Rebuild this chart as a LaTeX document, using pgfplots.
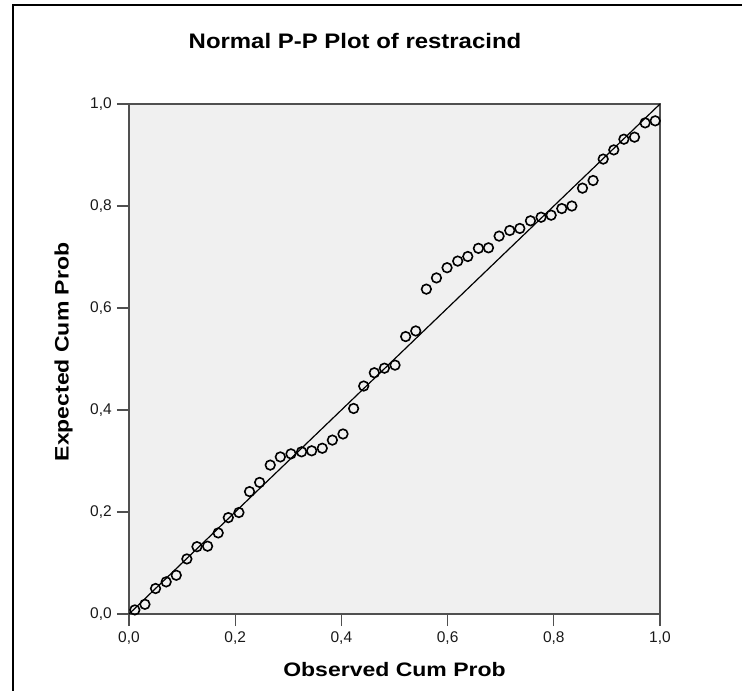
\documentclass[border=0pt]{standalone}
\usepackage{fontspec}
\setmainfont{Liberation Sans}
\usepackage{pgfplots}
\pgfplotsset{compat=1.18}
\definecolor{bgcol}{RGB}{240,240,240}
\definecolor{axcol}{RGB}{80,80,80}
\definecolor{txtcol}{RGB}{25,25,25}
\begin{document}
\begin{tikzpicture}[x=1pt,y=1pt]
\useasboundingbox (0,0) rectangle (742,-691);
\draw[line width=1.8pt,black] (12.8,-692) -- (12.8,-4.9) -- (743,-4.9);
\begin{axis}[
  at={(129pt,-614pt)}, anchor=south west,
  width=531pt, height=510pt, scale only axis,
  xmin=0, xmax=1, ymin=0, ymax=1,
  clip=false,
  axis background/.style={fill=bgcol},
  axis line style={draw=axcol, line width=1.3pt},
  xtick={0,0.2,0.4,0.6,0.8,1}, ytick={0,0.2,0.4,0.6,0.8,1},
  xtick pos=left, ytick pos=left,
  tick align=outside, major tick length=12pt,
  tick style={draw=axcol, line width=1.3pt},
  /pgf/number format/.cd, use comma, fixed, fixed zerofill, precision=1, assume math mode=true,
  /pgfplots/.cd,
  ticklabel style={font=\fontsize{15.5}{15.5}\selectfont, text=txtcol},
  xticklabel style={yshift=-2.5pt},
  yticklabel style={xshift=-1.7pt},
]
\addplot[black, line width=1.2pt] coordinates {(0,0) (1,1)};
\addplot[only marks, mark=o, mark size=4.8pt, mark options={line width=1.6pt, draw=black, fill=none}] coordinates {
(0.011,0.008) (0.030,0.019) (0.050,0.050) (0.070,0.063) (0.089,0.076)
(0.109,0.108) (0.128,0.132) (0.148,0.133) (0.168,0.159) (0.187,0.189)
(0.207,0.199) (0.227,0.240) (0.246,0.258) (0.266,0.292) (0.285,0.308)
(0.305,0.314) (0.325,0.318) (0.344,0.320) (0.364,0.325) (0.383,0.341)
(0.403,0.353) (0.423,0.403) (0.442,0.447) (0.462,0.473) (0.481,0.482)
(0.501,0.488) (0.521,0.544) (0.540,0.555) (0.560,0.637) (0.579,0.659)
(0.599,0.679) (0.619,0.692) (0.638,0.701) (0.658,0.717) (0.677,0.718)
(0.697,0.741) (0.717,0.752) (0.736,0.756) (0.756,0.771) (0.776,0.778)
(0.795,0.782) (0.815,0.795) (0.834,0.800) (0.854,0.835) (0.874,0.850)
(0.893,0.892) (0.913,0.910) (0.932,0.931) (0.952,0.935) (0.972,0.963)
(0.991,0.967)
};
\end{axis}
\node[anchor=base, inner sep=0pt, text=black] at (355,-48) {\scalebox{1.14}[1]{\fontsize{21}{21}\selectfont\bfseries Normal P-P Plot of restracind}};
\node[anchor=base, inner sep=0pt, text=black] at (394.5,-676) {\scalebox{1.18}[1]{\fontsize{19.5}{20}\selectfont\bfseries Observed Cum Prob}};
\node[anchor=base, rotate=90, inner sep=0pt, text=black] at (68.5,-352) {\scalebox{1.18}[1]{\fontsize{19.5}{20}\selectfont\bfseries Expected Cum Prob}};
\end{tikzpicture}
\end{document}
